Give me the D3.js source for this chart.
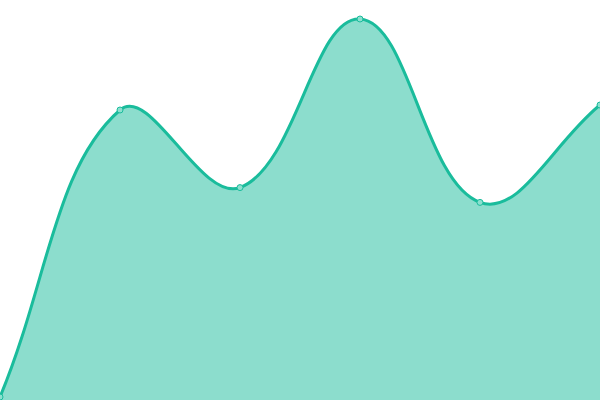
<!DOCTYPE html>
<html><head><meta charset="utf-8">
<script src="https://cdn.jsdelivr.net/npm/d3@7"></script>
<style>html,body{margin:0;padding:0;background:#fff;overflow:hidden}</style>
</head><body>
<svg id="chart" width="600" height="400"></svg>
<script>
const categories = [0, 1, 2, 3, 4, 5];
const values = [0.75, 72.5, 53.1, 95.25, 49.4, 73.75];

const W = 600, H = 400;
const TENSION = 0.4;

// Custom d3 curve: spline with distance-weighted control points
function SplineCurve(context) { this._context = context; }
SplineCurve.prototype = {
  areaStart() { this._line = 0; },
  areaEnd() { this._line = NaN; },
  lineStart() { this._pts = []; },
  point(x, y) { this._pts.push([+x, +y]); },
  lineEnd() {
    const p = this._pts, n = p.length, ctx = this._context;
    if (n) {
      const cps = p.map((cur, i) => {
        const prev = p[Math.max(i - 1, 0)], next = p[Math.min(i + 1, n - 1)];
        const d01 = Math.hypot(cur[0] - prev[0], cur[1] - prev[1]);
        const d12 = Math.hypot(next[0] - cur[0], next[1] - cur[1]);
        let s01 = d01 / (d01 + d12), s12 = d12 / (d01 + d12);
        if (isNaN(s01)) s01 = 0; if (isNaN(s12)) s12 = 0;
        const fa = TENSION * s01, fb = TENSION * s12;
        return {
          prev: [cur[0] - fa * (next[0] - prev[0]), cur[1] - fa * (next[1] - prev[1])],
          next: [cur[0] + fb * (next[0] - prev[0]), cur[1] + fb * (next[1] - prev[1])]
        };
      });
      if (this._line) ctx.lineTo(p[0][0], p[0][1]); else ctx.moveTo(p[0][0], p[0][1]);
      for (let i = 1; i < n; i++) {
        ctx.bezierCurveTo(cps[i - 1].next[0], cps[i - 1].next[1], cps[i].prev[0], cps[i].prev[1], p[i][0], p[i][1]);
      }
    }
    if (this._line || (this._line !== 0 && n === 1)) ctx.closePath();
    this._line = 1 - this._line;
  }
};
const curve = ctx => new SplineCurve(ctx);

const svg = d3.select("#chart");
const x = d3.scaleLinear().domain([0, categories.length - 1]).range([0, W]);
const y = d3.scaleLinear().domain([0, 100]).range([H, 0]);
const data = categories.map((c, i) => ({c, v: values[i]}));

svg.append("path").datum(data)
  .attr("d", d3.area().x(d => x(d.c)).y0(H).y1(d => y(d.v)).curve(curve))
  .attr("fill", "#1abc9c").attr("fill-opacity", 0.5);
svg.append("path").datum(data)
  .attr("d", d3.line().x(d => x(d.c)).y(d => y(d.v)).curve(curve))
  .attr("fill", "none").attr("stroke", "#1abc9c").attr("stroke-width", 3);
svg.selectAll("circle").data(data).join("circle")
  .attr("cx", d => x(d.c)).attr("cy", d => y(d.v)).attr("r", 3)
  .attr("fill", "#8ce0cf").attr("stroke", "#1abc9c").attr("stroke-width", 1);
</script>
</body></html>
